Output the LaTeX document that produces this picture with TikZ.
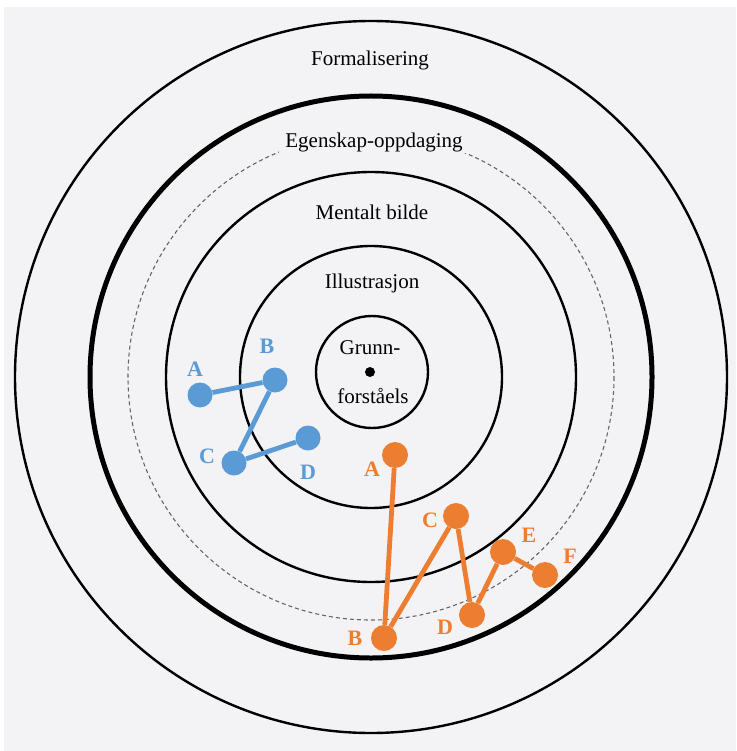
\documentclass[tikz,border=0pt]{standalone}
\usepackage{fontspec}
\setmainfont{Liberation Serif}
\definecolor{bggray}{HTML}{F3F3F5}
\definecolor{stepblue}{HTML}{5B9BD5}
\definecolor{steporange}{HTML}{ED7D31}
\tikzset{
  ring/.style={line width=2.4pt},
  ringlabel/.style={font=\fontsize{21}{24}\selectfont, inner sep=1pt},
  bluedot/.style={circle, fill=stepblue, minimum size=25pt, inner sep=0pt},
  orangedot/.style={circle, fill=steporange, minimum size=26pt, inner sep=0pt},
  bluename/.style={text=stepblue, font=\fontsize{22}{24}\selectfont\bfseries, inner sep=0pt},
  orangename/.style={text=steporange, font=\fontsize{22}{24}\selectfont\bfseries, inner sep=0pt},
  bluepath/.style={draw=stepblue, line width=4.8pt},
  orangepath/.style={draw=steporange, line width=4.8pt}
}
\begin{document}
\begin{tikzpicture}[x=1pt,y=-1pt]
	\useasboundingbox (0,0) rectangle (736,751);
	\fill[bggray] (4,7) rectangle (736,751);
	% rings
	\coordinate (M) at (371,377);
	\draw[ring] (M) circle (356);
	\draw[line width=5pt] (M) circle (281);
	\draw[black!60, dash pattern=on 4pt off 3pt, line width=1.1pt] (M) circle (243);
	\draw[ring] (M) circle (205);
	\draw[ring] (M) circle (131);
	\draw[ring] (372,372) circle (56);
	\node[circle, fill=black, minimum size=10pt, inner sep=0pt] (core) at (370,372) {};
	% ring names
	\node[ringlabel] (formal) at (370,60) {Formalisering};
	\node[ringlabel, fill=bggray, inner xsep=6pt] (egenskap) at (374,142) {Egenskap-oppdaging};
	\node[ringlabel] (mentalt) at (372,212) {Mentalt bilde};
	\node[ringlabel] (illus) at (372,283) {Illustrasjon};
	\node[ringlabel] (grunn) at (370,348) {Grunn-};
	\node[ringlabel] (forst) at (373,396) {forståels};
	% blue path
	\node[bluedot] (B_A) at (200,395) {};
	\node[bluedot] (B_B) at (275,380) {};
	\node[bluedot] (B_C) at (234,463) {};
	\node[bluedot] (B_D) at (308,438) {};
	\draw[bluepath] (B_A) -- (B_B) -- (B_C) -- (B_D);
	\node[bluename] (B_A_l) at (195,369) {A};
	\node[bluename] (B_B_l) at (267,346) {B};
	\node[bluename] (B_C_l) at (207,456) {C};
	\node[bluename] (B_D_l) at (308,472) {D};
	% orange path
	\node[orangedot] (O_A) at (395,455) {};
	\node[orangedot] (O_B) at (384,638) {};
	\node[orangedot] (O_C) at (456,516) {};
	\node[orangedot] (O_D) at (472,615) {};
	\node[orangedot] (O_E) at (503,552) {};
	\node[orangedot] (O_F) at (545,575) {};
	\draw[orangepath] (O_A) -- (O_B) -- (O_C) -- (O_D) -- (O_E) -- (O_F);
	\node[orangename] (O_A_l) at (372,469) {A};
	\node[orangename] (O_B_l) at (355,638) {B};
	\node[orangename] (O_C_l) at (430,520) {C};
	\node[orangename] (O_D_l) at (445,627) {D};
	\node[orangename] (O_E_l) at (529,535) {E};
	\node[orangename] (O_F_l) at (570,556) {F};
\end{tikzpicture}
\end{document}
